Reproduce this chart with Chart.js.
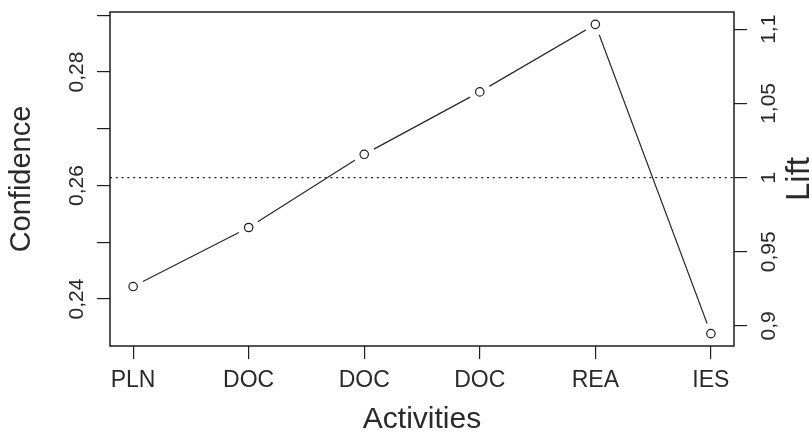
<!DOCTYPE html>
<html>
<head>
<meta charset="utf-8">
<title>Confidence and lift by activity</title>
<script src="https://cdn.jsdelivr.net/npm/chart.js@4/dist/chart.umd.min.js"></script>
<style>
  html, body { margin: 0; padding: 0; background: #fff; }
  #wrap { width: 812px; height: 441px; position: relative; }
</style>
</head>
<body>
<div id="wrap"><canvas id="chart"></canvas></div>
<script>
/* ── Data ── */
const activities   = ['PLN', 'DOC', 'DOC', 'DOC', 'REA', 'IES'];
const confidence   = [0.2422, 0.2526, 0.2655, 0.2765, 0.2884, 0.2339];
const confTicks    = [0.24, 0.25, 0.26, 0.27, 0.28, 0.29];
const confLabels   = [0.24, 0.26, 0.28];
const liftTicks    = [0.9, 0.95, 1, 1.05, 1.1];
const liftRef      = 1;          // dotted reference line
const baseConf     = 0.2614;     // confidence that corresponds to lift = 1

/* ── R-style axis ranges (data range widened by 4%) ── */
const spanY   = Math.max(...confidence) - Math.min(...confidence);
const confMin = Math.min(...confidence) - 0.04 * spanY;
const confMax = Math.max(...confidence) + 0.04 * spanY;
const xMin    = 1 - 0.04 * (activities.length - 1);
const xMax    = activities.length + 0.04 * (activities.length - 1);

const INK    = '#1e1e1e';
const TEXT   = '#2a2a2a';
const FONT   = "'Liberation Sans', Arial, sans-serif";
const TICK   = 13;

const points = confidence.map((v, i) => ({ x: i + 1, y: v }));

function fixTicks(values) {
  return scale => { scale.ticks = values.map(v => ({ value: v })); };
}

const tickGrid = { display: true, drawOnChartArea: false, drawTicks: true,
                   tickLength: TICK, color: INK, lineWidth: 1.2 };

/* ── Box, rotated tick labels and the right-hand title ── */
const rAxes = {
  id: 'rAxes',
  afterDraw(chart) {
    const { ctx, chartArea: a, scales } = chart;
    ctx.save();
    ctx.strokeStyle = INK; ctx.lineWidth = 1.5;
    ctx.strokeRect(a.left, a.top, a.right - a.left, a.bottom - a.top);

    ctx.fillStyle = TEXT;
    ctx.textAlign = 'center';
    ctx.textBaseline = 'alphabetic';
    const vtext = (txt, x, y) => {
      ctx.save(); ctx.translate(x, y); ctx.rotate(-Math.PI / 2);
      ctx.fillText(txt, 0, 0); ctx.restore();
    };
    const fmt = v => String(v).replace('.', ',');

    ctx.font = `21px ${FONT}`;
    confLabels.forEach(v => vtext(fmt(v), scales.y.right - TICK - 14, scales.y.getPixelForValue(v)));
    liftTicks.forEach(v => vtext(fmt(v), scales.y1.left + TICK + 28, scales.y1.getPixelForValue(v)));

    ctx.font = `33px ${FONT}`;
    vtext('Lift', scales.y1.left + 75, (a.top + a.bottom) / 2);
    ctx.restore();
  }
};

new Chart(document.getElementById('chart'), {
  type: 'line',
  data: {
    datasets: [
      /* open circles, drawn last */
      {
        data: points, yAxisID: 'y', order: 1, showLine: false,
        pointRadius: 4.2, pointHoverRadius: 4.2, pointBorderWidth: 1.2,
        pointBackgroundColor: '#fff', pointBorderColor: INK,
      },
      /* white halo so the line stops short of each circle (type = "b") */
      {
        data: points, yAxisID: 'y', order: 2, showLine: false,
        pointRadius: 11, pointHoverRadius: 11, pointBorderWidth: 0,
        pointBackgroundColor: '#fff', pointBorderColor: '#fff',
      },
      /* connecting line */
      {
        data: points, yAxisID: 'y', order: 3,
        borderColor: '#2b2b2b', borderWidth: 1.3, tension: 0, pointRadius: 0,
      },
      /* lift = 1 reference */
      {
        data: [{ x: xMin, y: liftRef }, { x: xMax, y: liftRef }],
        yAxisID: 'y1', order: 4,
        borderColor: INK, borderWidth: 1.3, borderDash: [2, 3.8], pointRadius: 0,
      },
    ],
  },
  options: {
    responsive: true, maintainAspectRatio: false, animation: false,
    layout: { padding: { top: 12, left: 0, right: 0, bottom: 0 } },
    plugins: { legend: { display: false }, tooltip: { enabled: false } },
    scales: {
      x: {
        type: 'linear', position: 'bottom', min: xMin, max: xMax,
        afterBuildTicks: fixTicks(activities.map((_, i) => i + 1)),
        afterFit: s => { s.height = 95; },
        grid: tickGrid,
        border: { display: false },
        ticks: {
          padding: 8, color: TEXT, autoSkip: false, maxRotation: 0,
          font: { family: FONT, size: 23 },
          callback: v => activities[v - 1],
        },
        title: {
          display: true, text: 'Activities', color: TEXT,
          font: { family: FONT, size: 30 }, padding: { top: 0, bottom: 3 },
        },
      },
      y: {
        position: 'left', min: confMin, max: confMax,
        afterBuildTicks: fixTicks(confTicks),
        afterFit: s => { s.width = 110; },
        grid: tickGrid,
        border: { display: false },
        ticks: { display: false },
        title: {
          display: true, text: 'Confidence', color: TEXT,
          font: { family: FONT, size: 29 }, padding: { top: 5, bottom: 0 },
        },
      },
      y1: {
        position: 'right', min: confMin / baseConf, max: confMax / baseConf,
        afterBuildTicks: fixTicks(liftTicks),
        afterFit: s => { s.width = 78; },
        grid: tickGrid,
        border: { display: false },
        ticks: { display: false },
      },
    },
  },
  plugins: [rAxes],
});
</script>
</body>
</html>
